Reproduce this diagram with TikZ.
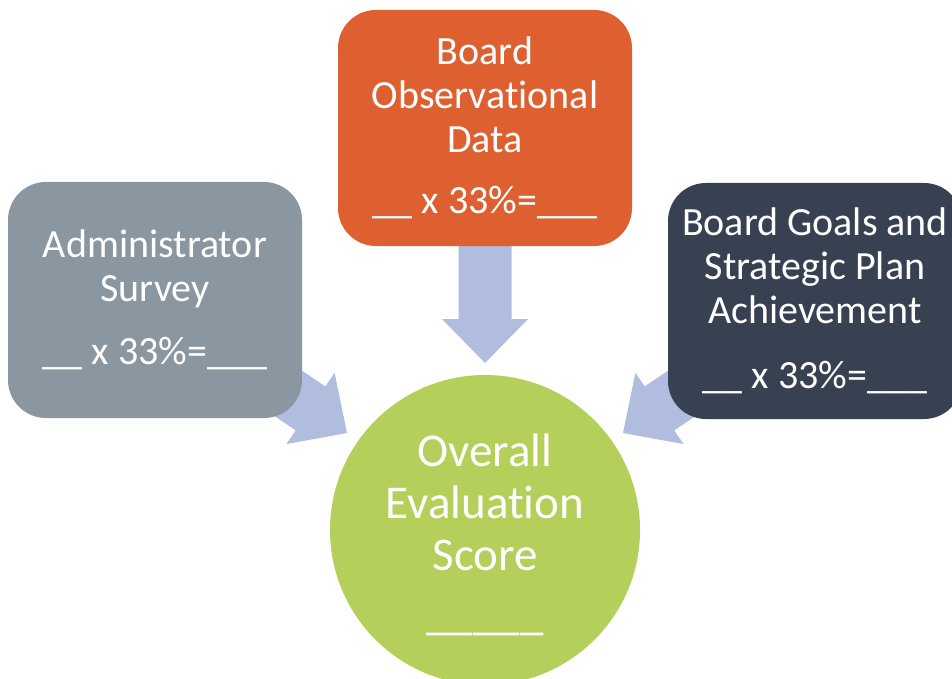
\documentclass[tikz,border=0pt]{standalone}
\usepackage{fontspec}
\setmainfont[Ligatures=NoCommon]{Carlito}
\newcommand\tinolig{t\kern0pt i}
\definecolor{graybox}{HTML}{8A96A0}
\definecolor{orangebox}{HTML}{DE6031}
\definecolor{darkbox}{HTML}{374151}
\definecolor{greencirc}{HTML}{B4CF5A}
\definecolor{arrowblue}{HTML}{B0BDDF}
\begin{document}
\begin{tikzpicture}[x=1pt,y=-1pt,
  box/.style={rounded corners=38pt, minimum width=294pt, minimum height=236pt, inner sep=0pt, text=white, align=center, font=\fontsize{40}{44}\selectfont},
  scorecirc/.style={circle, minimum size=310pt, inner sep=0pt, fill=greencirc},
  scoretext/.style={inner sep=0pt, text=white, align=center, font=\fontsize{47}{52}\selectfont},
  pics/barrow/.style={code={\fill[arrowblue] (0,0) -- (-44,43) -- (-44,26.5) -- (-150,26.5) -- (-150,-26.5) -- (-44,-26.5) -- (-44,-43) -- cycle;}}]
\useasboundingbox (0,0) rectangle (952,679);
\clip (0,0) rectangle (952,679);
\fill[white] (0,0) rectangle (952,679);
% arrow tips
\coordinate (tipT) at (485,363);
\coordinate (tipL) at (347,433);
\coordinate (tipR) at (623,433);
\pic[rotate=-90] at (tipT) {barrow};
\pic[rotate=-34] at (tipL) {barrow};
\pic[rotate=-146] at (tipR) {barrow};
% boxes
\node[box, fill=graybox] (admin) at (155,300) {Administrator\\Survey\\[19pt]\_\_ x 33\%=\_\_\_};
\node[box, fill=orangebox] (board) at (485,128) {Board\\Observa\tinolig onal\\Data\\[17pt]\_\_ x 33\%=\_\_\_};
\node[box, fill=darkbox] (goals) at (815,301) {Board Goals and\\Strategic Plan\\Achievement\\[21pt]\_\_ x 33\%=\_\_\_};
\node[scorecirc] (score) at (485,530) {};
\node[scoretext] (scorelbl) at (485,535) {Overall\\Evalua\tinolig on\\Score\\[7pt]\_\_\_\_\_};
\end{tikzpicture}
\end{document}
